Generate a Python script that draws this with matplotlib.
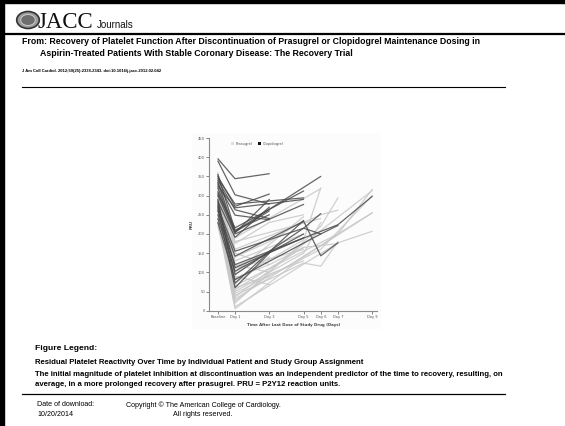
import matplotlib
matplotlib.use("Agg")
import matplotlib.pyplot as plt
from matplotlib.lines import Line2D
from matplotlib.patches import Circle, Patch, Rectangle

W, H = 565, 426

# ---- data (PRU per patient) ----
tick_days = [0, 1, 3, 5, 6, 7, 9]
tick_labels = ["Baseline", "Day 1", "Day 3", "Day 5", "Day 6", "Day 7", "Day 9"]
y_ticks = list(range(0, 451, 50))

prasugrel_days = [
    [0, 1, 3], [0, 1, 3], [0, 1, 3], [0, 1, 3], [0, 1, 5], [0, 1, 5],
    [0, 1, 5], [0, 1, 5, 6], [0, 1, 5, 6], [0, 1, 5, 6, 7], [0, 1, 6, 7, 9],
    [0, 1, 6, 7], [0, 1, 7, 9], [0, 1, 5, 9], [0, 1, 6, 9], [0, 1, 5, 6, 7],
    [0, 1, 3, 5], [0, 1, 6], [0, 1, 3, 5], [0, 1, 3], [0, 1, 9],
    [0, 1, 7, 9], [0, 1, 5, 7], [0, 1, 3, 5], [0, 1, 6], [0, 1, 3],
    [0, 1, 5], [0, 1, 3, 5],
]
prasugrel_pru = [
    [360, 150, 120], [340, 120, 100], [320, 90, 68], [300, 60, 90],
    [355, 110, 160], [335, 130, 200], [310, 100, 245], [290, 80, 185, 320],
    [280, 50, 150, 230], [270, 40, 124, 116, 180], [260, 30, 170, 200, 316],
    [250, 20, 220, 294], [240, 10, 177, 207], [230, 5, 140, 255],
    [220, 45, 160, 300], [345, 160, 230, 250, 262], [315, 175, 230, 250],
    [325, 190, 318], [295, 140, 180, 235], [285, 70, 140], [275, 35, 313],
    [300, 65, 200, 255], [265, 55, 165, 175], [230, 25, 95, 130],
    [350, 180, 240], [335, 95, 155], [305, 115, 190], [290, 85, 120, 165],
]

clopidogrel_days = [
    [0, 1, 3], [0, 1, 3], [0, 1, 3], [0, 1, 3], [0, 1, 3], [0, 1, 5],
    [0, 1, 5], [0, 1, 6], [0, 1, 5], [0, 1, 5], [0, 1, 3], [0, 1, 5, 6],
    [0, 1, 5, 6, 7], [0, 1, 7, 9], [0, 1, 5], [0, 1, 5, 6], [0, 1, 5],
    [0, 1, 3], [0, 1, 6, 7], [0, 1, 3], [0, 1, 3], [0, 1, 3], [0, 1, 5],
]
clopidogrel_pru = [
    [396, 344, 357], [390, 302, 278], [350, 272, 304], [340, 263, 240],
    [330, 249, 237], [345, 278, 294], [325, 268, 290], [320, 207, 350],
    [305, 216, 312], [300, 200, 277], [285, 191, 270], [270, 155, 215, 253],
    [260, 142, 233, 143, 177], [250, 120, 224, 298], [240, 103, 200],
    [275, 94, 215, 200], [290, 72, 235], [265, 60, 150], [230, 81, 200, 222],
    [310, 205, 260], [335, 203, 290], [355, 210, 250], [280, 112, 190],
]


def fx(x):
    return x / W


def fy(y):
    return 1 - y / H


def hline(fig, x0, x1, y, lw):
    fig.add_artist(Line2D([fx(x0), fx(x1)], [fy(y), fy(y)], color="black",
                          linewidth=lw, transform=fig.transFigure))


fig = plt.figure(figsize=(W / 100, H / 100), dpi=100)
fig.patch.set_facecolor("white")

# page frame
fig.add_artist(Rectangle((0, 0), fx(4), 1, color="black", transform=fig.transFigure))
fig.add_artist(Rectangle((0, fy(3)), 1, 3 / H, color="black", transform=fig.transFigure))
hline(fig, 3, W, 34, 1.6)

# header logo
fig.add_artist(Circle((fx(28), fy(20)), 8.5 / H, transform=fig.transFigure,
                      facecolor="#9a9a9a", edgecolor="#333333", linewidth=1.2))
fig.add_artist(Circle((fx(28), fy(20)), 5.5 / H, transform=fig.transFigure,
                      facecolor="#6e6e6e", edgecolor="#d8d8d8", linewidth=0.6))
fig.text(fx(38), fy(28.5), "JACC", family="Liberation Serif", fontsize=16.5,
         va="baseline", ha="left", color="#111111")
fig.text(fx(97), fy(28), "Journals", family="Liberation Sans",
         fontsize=7, va="baseline", ha="left", color="#111111")

sans = "Liberation Sans"
fig.text(fx(22), fy(42), "From: Recovery of Platelet Function After Discontinuation of Prasugrel "
         "or Clopidogrel Maintenance Dosing in", family=sans, fontsize=6.3,
         fontweight="bold", va="center")
fig.text(fx(40), fy(53), "Aspirin-Treated Patients With Stable Coronary Disease: The Recovery Trial",
         family=sans, fontsize=6.3, fontweight="bold", va="center")
fig.text(fx(22), fy(71), "J Am Coll Cardiol. 2012;59(25):2338-2343. doi:10.1016/j.jacc.2012.02.042",
         family=sans, fontsize=3.0, fontweight="bold", va="center")
hline(fig, 22, 505, 87, 0.8)

# faint background of the embedded figure
fig.add_artist(Rectangle((fx(192), fy(329)), fx(381) - fx(192), fy(133) - fy(329),
                         facecolor="#fcfcfc", edgecolor="none", transform=fig.transFigure,
                         zorder=-5))

# ---- chart ----
ax = fig.add_axes([fx(209.3), fy(310.7), fx(377.4) - fx(209.3), fy(138) - fy(310.7)])
ax.set_facecolor("none")

for d, v in zip(prasugrel_days, prasugrel_pru):
    ax.plot(d, v, color="#c8c8c8", linewidth=0.9, alpha=0.85, solid_capstyle="round")
for d, v in zip(clopidogrel_days, clopidogrel_pru):
    ax.plot(d, v, color="#4a4a4a", linewidth=0.9, alpha=0.85, solid_capstyle="round")

ax.set_xlim(-0.5, 9.3)
ax.set_ylim(0, 450)
ax.set_xticks(tick_days)
ax.set_xticklabels(tick_labels)
ax.set_yticks(y_ticks)
for s in ["top", "right"]:
    ax.spines[s].set_visible(False)
for s in ["left", "bottom"]:
    ax.spines[s].set_color("#8a8a8a")
    ax.spines[s].set_linewidth(0.8)
ax.tick_params(labelsize=2.6, colors="#555555", length=2, width=0.5, pad=1)
ax.set_ylabel("PRU", fontsize=2.8, fontweight="bold", color="#444444", labelpad=3)
ax.set_xlabel("Time After Last Dose of Study Drug (Days)", fontsize=2.8,
              fontweight="bold", color="#444444", labelpad=3)

handles = [Patch(facecolor="#dedede", edgecolor="none", label="Prasugrel"),
           Patch(facecolor="#111111", edgecolor="none", label="Clopidogrel")]
ax.legend(handles=handles, ncol=2, frameon=False, fontsize=2.6,
          handlelength=0.8, handleheight=0.8, columnspacing=1.5, handletextpad=0.5,
          loc="center left", bbox_to_anchor=(fx(228), fy(144)),
          bbox_transform=fig.transFigure, labelcolor="#555555")

# ---- caption ----
fig.text(fx(35), fy(348), "Figure Legend:", family=sans, fontsize=6.1,
         fontweight="bold", va="center")
fig.text(fx(35), fy(363), "Residual Platelet Reactivity Over Time by Individual Patient and "
         "Study Group Assignment", family=sans, fontsize=5.6, fontweight="bold", va="center")
fig.text(fx(35), fy(374), "The initial magnitude of platelet inhibition at discontinuation was an "
         "independent predictor of the time to recovery, resulting, on", family=sans,
         fontsize=5.6, fontweight="bold", va="center")
fig.text(fx(35), fy(384), "average, in a more prolonged recovery after prasugrel. "
         "PRU = P2Y12 reaction units.", family=sans, fontsize=5.6, fontweight="bold", va="center")
hline(fig, 22, 505, 394, 0.9)

fig.text(fx(37), fy(405), "Date of download:", family=sans, fontsize=5.1, va="center")
fig.text(fx(37), fy(414), "10/20/2014", family=sans, fontsize=5.1, va="center")
fig.text(fx(203), fy(405), "Copyright \u00a9 The American College of Cardiology.",
         family=sans, fontsize=5.1, va="center", ha="center")
fig.text(fx(203), fy(414), "All rights reserved.", family=sans, fontsize=5.1,
         va="center", ha="center")

fig.savefig("out.png", dpi=100)
